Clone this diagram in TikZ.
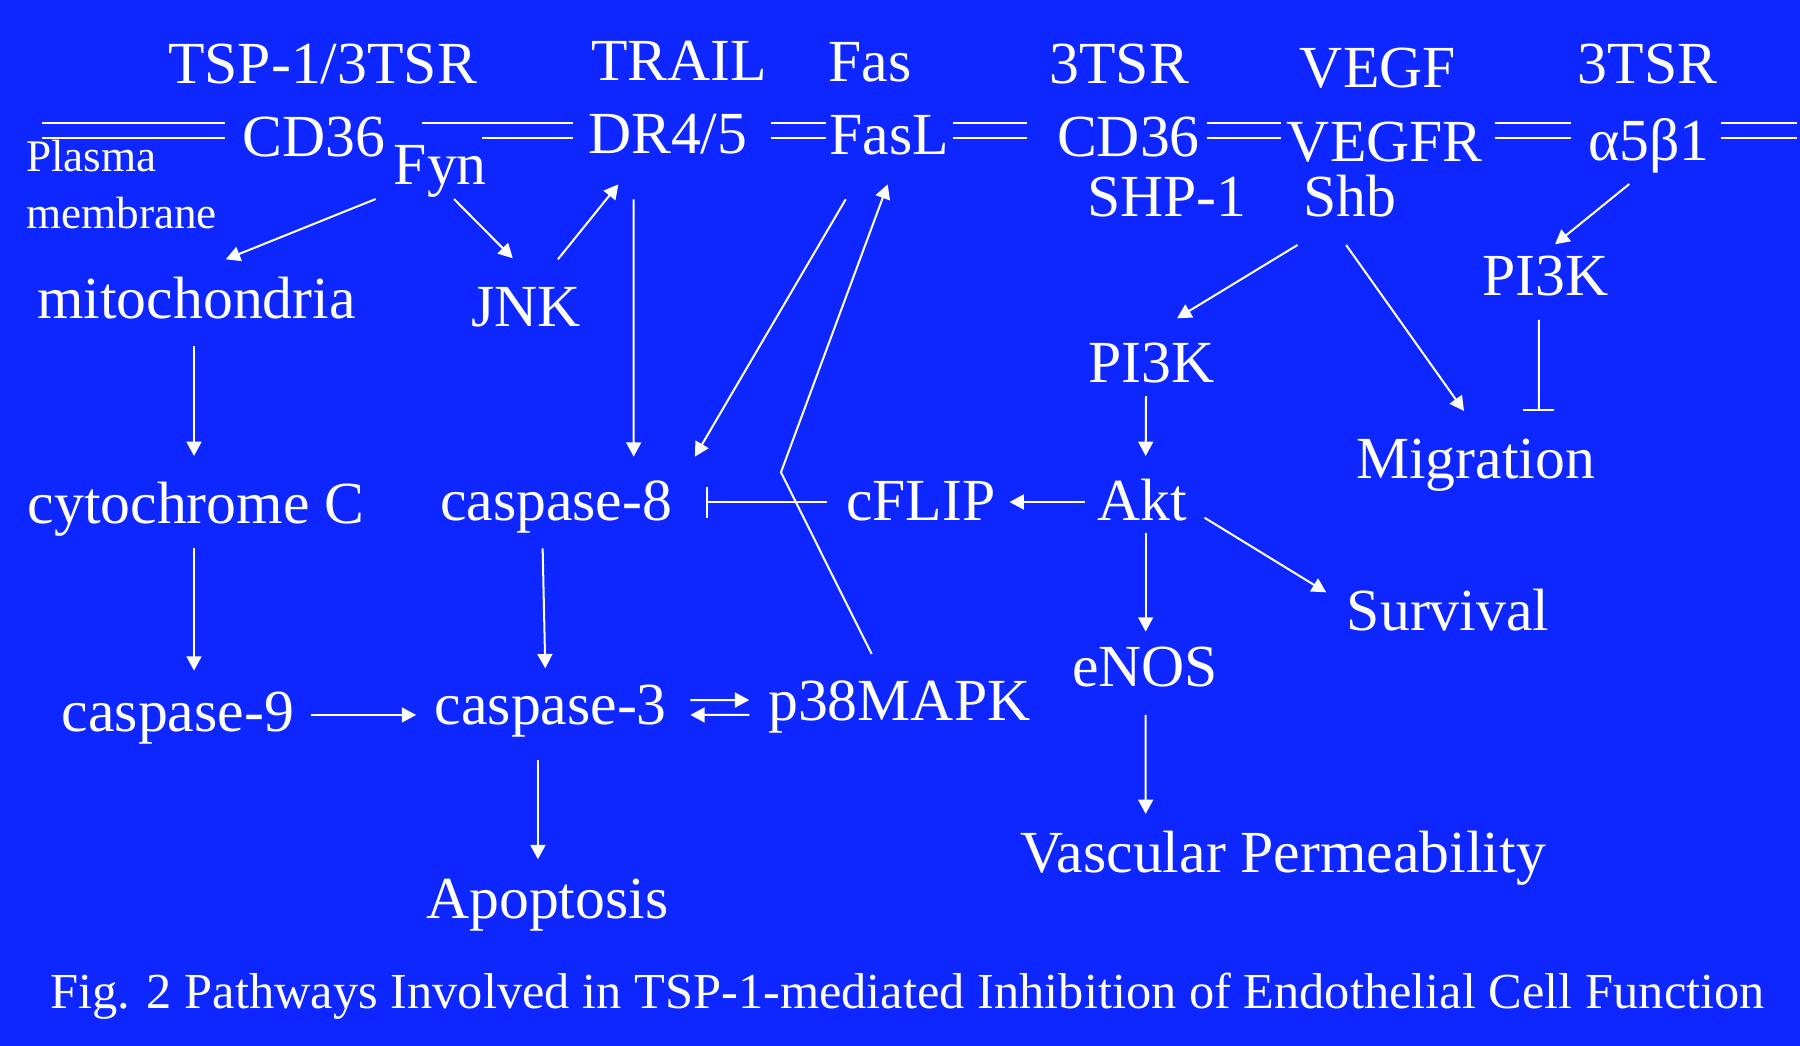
\documentclass[tikz,border=0pt]{standalone}
\usepackage{fontspec}
\setmainfont{Liberation Serif}
\usetikzlibrary{arrows.meta}
\definecolor{bgblue}{RGB}{14,38,255}
\tikzset{
  lab/.style={text=white, font=\fontsize{14.8}{17}\selectfont, inner sep=0pt, anchor=base},
  small/.style={text=white, font=\fontsize{11.2}{13}\selectfont, inner sep=0pt, anchor=base west},
  capt/.style={text=white, font=\fontsize{12.5}{15}\selectfont, inner sep=0pt, anchor=base},
  arr/.style={draw=white, line width=0.5pt, -{Triangle[length=1.25mm,width=1.3mm]}},
  inh/.style={draw=white, line width=0.5pt, -{Bar[width=2.7mm,line width=0.5pt]}},
  plainline/.style={draw=white, line width=0.5pt},
  mem/.style={draw=white, line width=0.5pt}
}
\begin{document}
\begin{tikzpicture}[x=0.1mm,y=-0.1mm]
\fill[bgblue] (0,0) rectangle (1568,911);
\useasboundingbox (0,0) rectangle (1568,911);

% membrane double lines
\foreach \a/\b in {37/196, 671.6/719.5, 830/895, 1051/1116, 1302/1368.6, 1499/1565}{
  \draw[mem] (\a,106.9) -- (\b,106.9);
  \draw[mem] (\a,119.8) -- (\b,119.8);
}
\draw[mem] (368,106.9) -- (499,106.9);
\draw[mem] (420,119.8) -- (499,119.8);

% nodes
\node[lab] (tsp) at (281,73) {TSP-1/3TSR};
\node[lab] (cd36a) at (273.7,136.5) {CD36};
\node[small] (plasma) at (22,149.5) {Plasma};
\node[small] (membrane) at (22,199) {membrane};
\node[lab] (fyn) at (383.6,161.1) {Fyn};
\node[lab] (trail) at (591.5,69.7) {TRAIL};
\node[lab] (dr) at (581.7,134) {DR4/5};
\node[lab] (fas) at (757.7,71) {Fas};
\node[lab] (fasl) at (774.6,135) {FasL};
\node[lab] (tsrb) at (975,72.6) {3TSR};
\node[lab] (cd36b) at (983,136) {CD36};
\node[lab] (shp) at (1016.5,188.7) {SHP-1};
\node[lab] (vegf) at (1200.3,76) {VEGF};
\node[lab] (vegfr) at (1206.3,140.8) {VEGFR};
\node[lab] (shb) at (1176,188.7) {Shb};
\node[lab] (tsrc) at (1435.3,72.6) {3TSR};
\node[lab] (a5b1) at (1436.2,139.4) {α5β1};
\node[lab] (pi3kr) at (1346,257) {PI3K};
\node[lab] (mito) at (171.2,277.3) {mitochondria};
\node[lab] (jnk) at (458,284.6) {JNK};
\node[lab] (pi3km) at (1003.3,333.3) {PI3K};
\node[lab] (migr) at (1285.4,416.7) {Migration};
\node[lab] (cyto) at (170.8,455.9) {cytochrome C};
\node[lab] (casp8) at (484.4,453) {caspase-8};
\node[lab] (cflip) at (802.2,453) {cFLIP};
\node[lab] (akt) at (995.2,453) {Akt};
\node[lab] (surv) at (1261.5,548.8) {Survival};
\node[lab] (enos) at (997.4,597.6) {eNOS};
\node[lab] (casp9) at (155,637.3) {caspase-9};
\node[lab] (casp3) at (479.8,631.5) {caspase-3};
\node[lab] (p38) at (783.4,627.8) {p38MAPK};
\node[lab] (vp) at (1117.7,760.2) {Vascular Permeability};
\node[lab] (apop) at (476.8,800) {Apoptosis};
\node[capt] (caption) at (790.5,878.3) {Fig. 2 Pathways Involved in TSP-1-mediated Inhibition of Endothelial Cell Function};

% connectors
\draw[arr] ([shift={(-56.4,12.3)}]fyn.base) -- ([shift={(25.5,-51.4)}]mito.base);
\draw[arr] ([shift={(11.9,12.3)}]fyn.base) -- ([shift={(-11.3,-59.6)}]jnk.base);
\draw[arr] ([shift={(28,-58.7)}]jnk.base) -- ([shift={(-43,26.6)}]dr.base);
\draw[arr] ([shift={(-29.7,39.6)}]dr.base) -- ([shift={(67.6,-55.2)}]casp8.base);
\draw[arr] ([shift={(-37.9,38.6)}]fasl.base) -- ([shift={(120.9,-55.2)}]casp8.base);
\coordinate (bend) at (680.3,411.4);
\draw[arr] ([shift={(-24.1,-58.1)}]p38.base) -- (bend) -- ([shift={(-1.3,25.6)}]fasl.base);
\draw[arr] ([shift={(-45.7,24.7)}]shb.base) -- ([shift={(22,-56)}]pi3km.base);
\draw[arr] ([shift={(-3.4,24.7)}]shb.base) -- ([shift={(-10.1,-58.7)}]migr.base);
\draw[arr] ([shift={(-16.9,20.9)}]a5b1.base) -- ([shift={(8.6,-44.2)}]pi3kr.base);
\draw[inh] ([shift={(-5.4,21.7)}]pi3kr.base) -- ([shift={(55.2,-58.7)}]migr.base);
\draw[arr] ([shift={(-2.2,24.1)}]mito.base) -- ([shift={(-1.8,-58.7)}]cyto.base);
\draw[arr] ([shift={(-1.8,21.7)}]cyto.base) -- ([shift={(14,-53.1)}]casp9.base);
\draw[arr] ([shift={(-11.7,24.6)}]casp8.base) -- ([shift={(-4.8,-49.3)}]casp3.base);
\draw[inh] ([shift={(-82.2,-15.7)}]cflip.base) -- ([shift={(130.6,-15.7)}]casp8.base);
\draw[arr] ([shift={(-50.2,-15.7)}]akt.base) -- ([shift={(77.2,-15.7)}]cflip.base);
\draw[arr] ([shift={(-5,11.7)}]pi3km.base) -- ([shift={(2.8,-55.8)}]akt.base);
\draw[arr] ([shift={(2.8,11)}]akt.base) -- ([shift={(0.6,-47.4)}]enos.base);
\draw[arr] ([shift={(54.1,-2)}]akt.base) -- ([shift={(-106.2,-32.8)}]surv.base);
\draw[arr] ([shift={(0.6,25.2)}]enos.base) -- ([shift={(-119.7,-51.2)}]vp.base);
\draw[arr] ([shift={(116,-14.5)}]casp9.base) -- ([shift={(-117.3,-8.7)}]casp3.base);
\draw[arr] ([shift={(121.6,-21.7)}]casp3.base) -- ([shift={(-130.7,-18)}]p38.base);
\draw[arr] ([shift={(-130.7,-5)}]p38.base) -- ([shift={(121.6,-8.7)}]casp3.base);
\draw[arr] ([shift={(-11.2,30.5)}]casp3.base) -- ([shift={(-8.2,-51.5)}]apop.base);
\end{tikzpicture}
\end{document}
